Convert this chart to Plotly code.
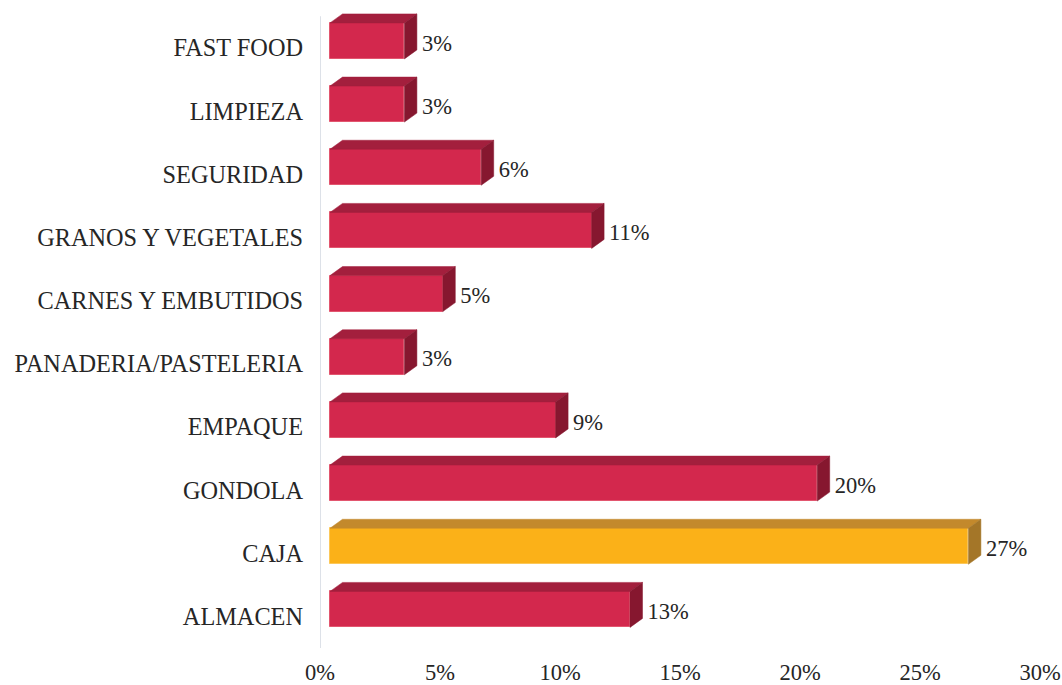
import plotly.graph_objects as go

# Share of staff by area (%), listed top to bottom as shown
categories = ["FAST FOOD", "LIMPIEZA", "SEGURIDAD", "GRANOS Y VEGETALES",
              "CARNES Y EMBUTIDOS", "PANADERIA/PASTELERIA", "EMPAQUE",
              "GONDOLA", "CAJA", "ALMACEN"]
shares = [3.1, 3.1, 6.3, 10.9, 4.7, 3.1, 9.4, 20.3, 26.6, 12.5]
highlight = "CAJA"
x_tick_step = 5

# Canvas / plot-area geometry
W, H = 1062, 685
ML, MR, MT, MB = 320, 22, 10, 37
X_RANGE = [0, 30]
Y_RANGE = [-0.5, 9.6]
px_x = (W - ML - MR) / (X_RANGE[1] - X_RANGE[0])
px_y = (H - MT - MB) / (Y_RANGE[1] - Y_RANGE[0])

# Pseudo-3D box proportions (pixels converted to data units)
FRONT_GAP = 10 / px_x      # front face starts a little right of the axis
DEPTH_X = 12.5 / px_x      # receding depth, horizontal
DEPTH_Y = 9 / px_y         # receding depth, vertical
FACE_LIFT = 7 / px_y       # front face centre above the category tick
FACE_HALF = 18 / px_y      # half height of the front face
LABEL_PAD_X = 5 / px_x     # gap between box and value label
LABEL_DROP = 4 / px_y      # value label slightly below the face centre

COLORS = {
    "normal": dict(front="#d3284d", top="#a31f3d", side="#86172f", edge="#e2566f"),
    "highlight": dict(front="#fbb118", top="#c3892c", side="#a47628", edge="#fcc85a"),
}
FONT = "Liberation Serif, Times New Roman, serif"
TEXT_COLOR = "#262626"

n = len(categories)
ypos = [n - 1 - k for k in range(n)]
kinds = ["highlight" if c == highlight else "normal" for c in categories]

fig = go.Figure()

# Front faces
fig.add_trace(go.Bar(
    orientation="h",
    y=ypos,
    x=shares,
    base=FRONT_GAP,
    width=2 * FACE_HALF,
    offset=FACE_LIFT - FACE_HALF,
    marker=dict(color=[COLORS[k]["front"] for k in kinds],
                line=dict(color=[COLORS[k]["edge"] for k in kinds], width=1)),
    customdata=categories,
    hovertemplate="%{customdata}: %{x:.0f}%<extra></extra>",
    showlegend=False,
))

# Top and side faces
for y, v, k in zip(ypos, shares, kinds):
    x0 = FRONT_GAP
    x1 = FRONT_GAP + v
    yb = y + FACE_LIFT - FACE_HALF
    yt = y + FACE_LIFT + FACE_HALF
    top_x = [x0, x1, x1 + DEPTH_X, x0 + DEPTH_X, x0]
    top_y = [yt, yt, yt + DEPTH_Y, yt + DEPTH_Y, yt]
    side_x = [x1, x1 + DEPTH_X, x1 + DEPTH_X, x1, x1]
    side_y = [yb, yb + DEPTH_Y, yt + DEPTH_Y, yt, yb]
    for xs, ys, col in ((top_x, top_y, COLORS[k]["top"]),
                        (side_x, side_y, COLORS[k]["side"])):
        fig.add_trace(go.Scatter(
            x=xs, y=ys, mode="lines", fill="toself",
            fillcolor=col, line=dict(color=col, width=0.5),
            hoverinfo="skip", showlegend=False,
        ))

# Value labels
fig.add_trace(go.Scatter(
    x=[FRONT_GAP + v + DEPTH_X + LABEL_PAD_X for v in shares],
    y=[y + FACE_LIFT - LABEL_DROP for y in ypos],
    mode="text",
    text=shares,
    texttemplate="%{text:.0f}%",
    textposition="middle right",
    textfont=dict(family=FONT, size=22.5, color=TEXT_COLOR),
    hoverinfo="skip",
    showlegend=False,
    cliponaxis=False,
))

# Vertical value axis line
fig.add_shape(type="line", xref="x", yref="y",
              x0=0, x1=0, y0=-0.5, y1=9.5,
              line=dict(color="#dde1e8", width=2), layer="below")

fig.update_layout(
    width=W, height=H,
    margin=dict(l=ML, r=MR, t=MT, b=MB, pad=0, autoexpand=False),
    paper_bgcolor="white", plot_bgcolor="white",
    font=dict(family=FONT, color=TEXT_COLOR),
    xaxis=dict(range=X_RANGE, tickmode="linear", tick0=0, dtick=x_tick_step,
               ticksuffix="%", automargin=False,
               showgrid=False, zeroline=False, showline=False, ticks="",
               tickfont=dict(size=22.5, color=TEXT_COLOR),
               ticklabelstandoff=8, fixedrange=True),
    yaxis=dict(range=Y_RANGE, tickvals=ypos, ticktext=categories,
               automargin=False,
               showgrid=False, zeroline=False, showline=False, ticks="",
               tickfont=dict(size=24.3, color=TEXT_COLOR),
               ticklabelstandoff=16, fixedrange=True),
    bargap=0,
)

fig.write_html("out.html")
